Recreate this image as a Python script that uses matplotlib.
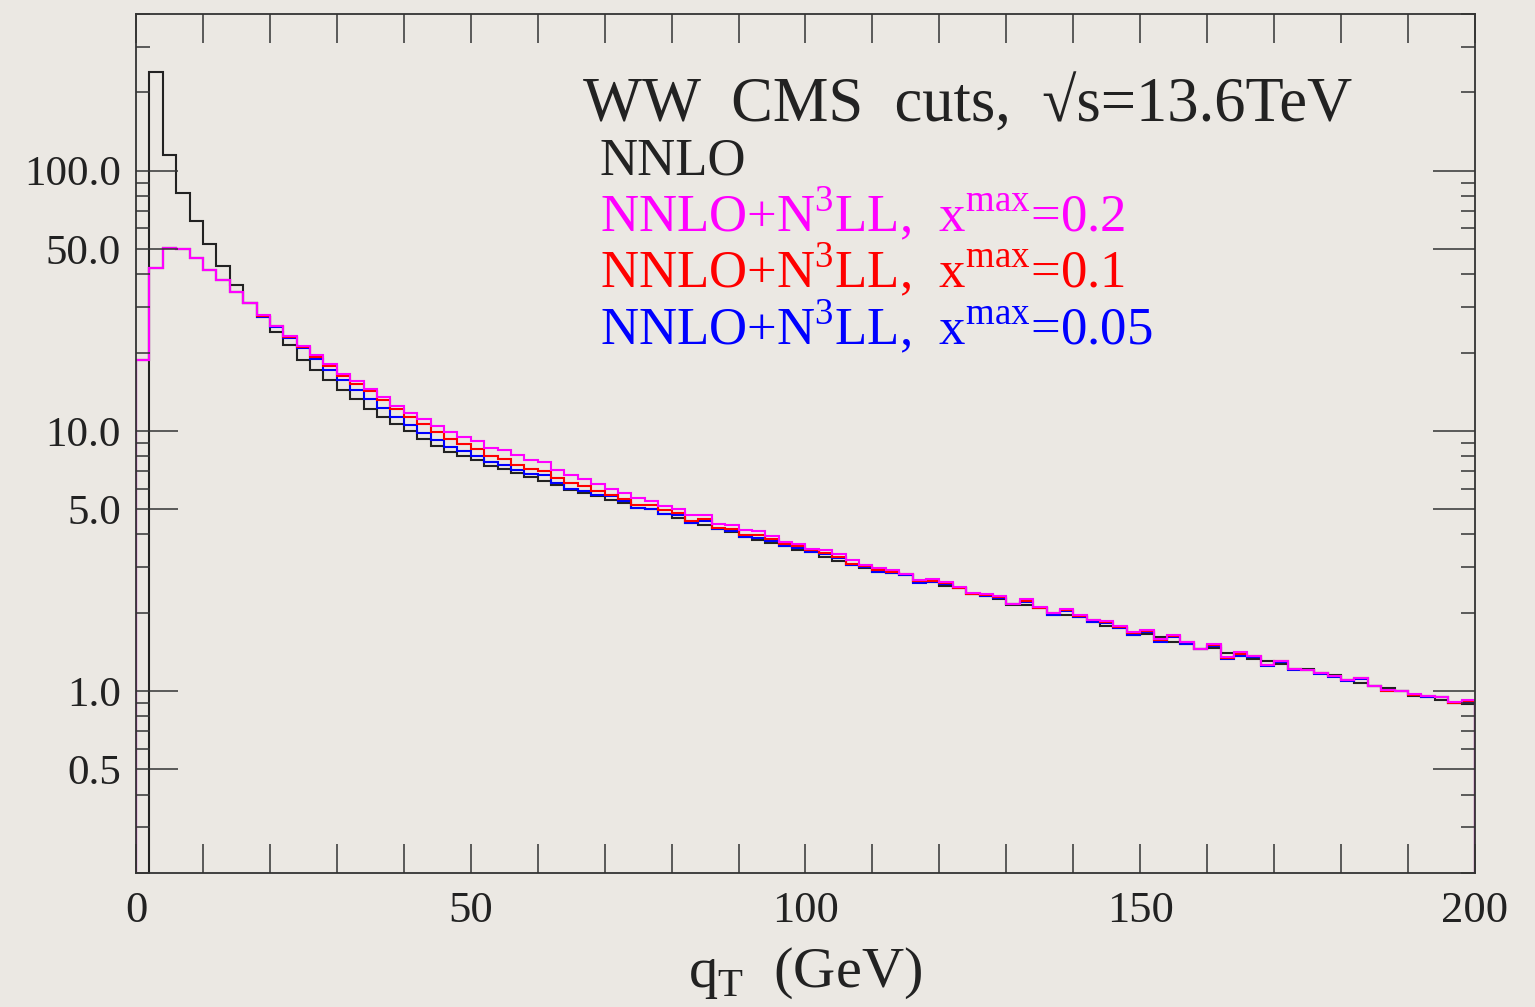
#WW qT spectrum, NNLO vs NNLO+N3LL
import numpy as np
import matplotlib
matplotlib.use('Agg')
import matplotlib.pyplot as plt

plt.rcParams['font.family'] = ['Liberation Serif', 'DejaVu Serif']
plt.rcParams['mathtext.fontset'] = 'custom'
plt.rcParams['mathtext.rm'] = 'Liberation Serif'


#data: 2 GeV bins from 0 to 200 GeV
qt_edges = np.arange(0, 202, 2)

# first NNLO bin is negative (below the plot range)
nnlo = [0.01, 240, 114.5, 81.8, 64.3, 52.1, 43.2, 36.2, 30.9, 27.3,
        23.9, 21.3, 18.8, 17.2, 15.7, 14.3, 13.3, 12.1, 11.3, 10.6,
        9.95, 9.30, 8.74, 8.29, 7.98, 7.70, 7.31, 7.16, 6.91, 6.65,
        6.42, 6.18, 5.95, 5.77, 5.61, 5.44, 5.28, 5.05, 5.00, 4.81,
        4.64, 4.44, 4.34, 4.18, 4.07, 3.91, 3.80, 3.72, 3.60, 3.50,
        3.41, 3.28, 3.16, 3.05, 2.97, 2.87, 2.85, 2.79, 2.63, 2.63,
        2.53, 2.48, 2.37, 2.32, 2.26, 2.14, 2.14, 2.08, 1.96, 1.96,
        1.92, 1.85, 1.78, 1.75, 1.64, 1.66, 1.61, 1.55, 1.52, 1.45,
        1.46, 1.40, 1.37, 1.33, 1.30, 1.27, 1.22, 1.22, 1.17, 1.15,
        1.10, 1.07, 1.045, 1.024, 1.00, 0.957, 0.951, 0.924, 0.897, 0.889]

n3ll_x02 = [18.7, 42.2, 50.5, 50.0, 46.2, 41.7, 38.1, 34.3, 30.9, 27.8,
            25.4, 23.1, 21.1, 19.5, 18.0, 16.6, 15.5, 14.5, 13.5, 12.5,
            11.7, 11.1, 10.4, 9.89, 9.47, 9.14, 8.57, 8.42, 8.05, 7.70,
            7.59, 7.05, 6.75, 6.55, 6.23, 6.00, 5.77, 5.51, 5.38, 5.13,
            5.03, 4.74, 4.77, 4.38, 4.34, 4.15, 4.12, 3.94, 3.74, 3.69,
            3.53, 3.48, 3.35, 3.18, 3.06, 2.96, 2.91, 2.83, 2.68, 2.70,
            2.63, 2.51, 2.38, 2.37, 2.31, 2.17, 2.25, 2.10, 2.00, 2.07,
            1.96, 1.88, 1.86, 1.78, 1.69, 1.71, 1.58, 1.64, 1.55, 1.45,
            1.52, 1.35, 1.41, 1.37, 1.26, 1.31, 1.22, 1.21, 1.17, 1.14,
            1.10, 1.12, 1.045, 1.01, 1.00, 0.974, 0.957, 0.951, 0.905, 0.924]

n3ll_x01 = [18.7, 42.2, 50.5, 50.0, 46.2, 41.7, 38.1, 34.3, 30.9, 27.7,
            25.3, 23.0, 21.0, 19.2, 17.8, 16.3, 15.2, 14.2, 13.1, 12.1,
            11.3, 10.6, 9.89, 9.30, 8.93, 8.51, 8.00, 7.78, 7.42, 7.16,
            7.01, 6.59, 6.30, 6.12, 5.86, 5.69, 5.49, 5.21, 5.18, 4.95,
            4.85, 4.50, 4.57, 4.24, 4.19, 3.97, 3.97, 3.83, 3.67, 3.60,
            3.48, 3.40, 3.28, 3.09, 3.02, 2.91, 2.87, 2.81, 2.64, 2.65,
            2.60, 2.49, 2.37, 2.34, 2.30, 2.17, 2.22, 2.09, 1.99, 2.05,
            1.94, 1.87, 1.85, 1.77, 1.67, 1.70, 1.57, 1.63, 1.54, 1.45,
            1.51, 1.34, 1.39, 1.36, 1.26, 1.30, 1.22, 1.20, 1.17, 1.14,
            1.10, 1.12, 1.045, 1.00, 1.00, 0.97, 0.955, 0.95, 0.90, 0.917]

n3ll_x005 = [18.7, 42.2, 50.5, 50.0, 46.2, 41.7, 38.1, 34.3, 30.9, 27.5,
             25.0, 22.7, 20.8, 18.9, 17.2, 15.7, 14.4, 13.3, 12.2, 11.3,
             10.5, 9.84, 9.19, 8.67, 8.37, 7.98, 7.59, 7.37, 7.05, 6.85,
             6.75, 6.30, 6.00, 5.86, 5.67, 5.61, 5.36, 5.05, 5.00, 4.81,
             4.74, 4.44, 4.49, 4.18, 4.12, 3.91, 3.89, 3.77, 3.60, 3.56,
             3.41, 3.35, 3.25, 3.06, 3.00, 2.87, 2.85, 2.79, 2.60, 2.63,
             2.59, 2.48, 2.36, 2.32, 2.28, 2.16, 2.20, 2.08, 1.96, 2.03,
             1.92, 1.85, 1.83, 1.75, 1.64, 1.69, 1.55, 1.62, 1.52, 1.45,
             1.49, 1.33, 1.37, 1.35, 1.25, 1.29, 1.21, 1.20, 1.16, 1.13,
             1.09, 1.11, 1.045, 1.00, 1.00, 0.965, 0.951, 0.948, 0.897, 0.910]

y_major = [0.5, 1, 5, 10, 50, 100]
y_major_labels = ['0.5', '1.0', '5.0', '10.0', '50.0', '100.0']
y_minor = [0.2, 0.3, 0.4, 0.6, 0.7, 0.8, 0.9, 2, 3, 4, 6, 7, 8, 9,
           20, 30, 40, 60, 70, 80, 90, 200, 300, 400]
x_major = [0, 50, 100, 150, 200]

legend_lines = [
    ('NNLO', '#222222'),
    (r'NNLO+N$^{3}$LL,  x$^{\rm max}$=0.2', '#ff00ff'),
    (r'NNLO+N$^{3}$LL,  x$^{\rm max}$=0.1', '#ff0000'),
    (r'NNLO+N$^{3}$LL,  x$^{\rm max}$=0.05', '#0000ff'),
]

bg = '#ebe8e3'


#plot
fig = plt.figure(figsize=(15.35, 10.07), dpi=100, facecolor=bg)
ax = fig.add_axes([0.0886, 0.1331, 0.8723, 0.853])
ax.set_facecolor(bg)

lw = 1.5
ax.stairs(nnlo, qt_edges, baseline=1e-3, color='#222222', lw=lw)
ax.stairs(n3ll_x005, qt_edges, baseline=1e-3, color='#0000ff', lw=lw)
ax.stairs(n3ll_x01, qt_edges, baseline=1e-3, color='#ff0000', lw=lw)
ax.stairs(n3ll_x02, qt_edges, baseline=1e-3, color='#ff00ff', lw=lw)

ax.set_yscale('log')
ax.set_xlim(0, 200)
ax.set_ylim(0.2, 400)

ax.set_yticks(y_major)
ax.set_yticklabels(y_major_labels)
ax.set_yticks(y_minor, minor=True)
ax.set_xticks(x_major)
ax.set_xticks(np.arange(0, 201, 10), minor=True)

ax.tick_params(axis='y', which='major', direction='in', length=30, width=1.1,
               left=True, right=True, labelsize=31, pad=11, color='#333333',
               labelcolor='#222222')
ax.tick_params(axis='y', which='minor', direction='in', length=10, width=1.1,
               left=True, right=True, labelleft=False, color='#333333')
ax.tick_params(axis='x', which='both', direction='in', length=21, width=1.1,
               top=True, bottom=True, labelsize=32, pad=13, color='#333333',
               labelcolor='#222222')
for s in ax.spines.values():
    s.set_linewidth(1.3)
    s.set_color('#333333')

ax.set_xlabel(r'q$_{\rm T}$  (GeV)', fontsize=42, color='#222222')
ax.xaxis.set_label_coords(0.5, -0.085)

ax.text(0.334, 0.8743, 'WW  CMS  cuts,  \u221as=13.6TeV', transform=ax.transAxes,
        fontsize=45, va='baseline', color='#222222')
y0 = 0.8126
for i, (txt, col) in enumerate(legend_lines):
    ax.text(0.3465, y0 - i * 0.066, txt, transform=ax.transAxes,
            fontsize=38, va='baseline', color=col)

fig.savefig('out.png', dpi=100, facecolor=bg)
